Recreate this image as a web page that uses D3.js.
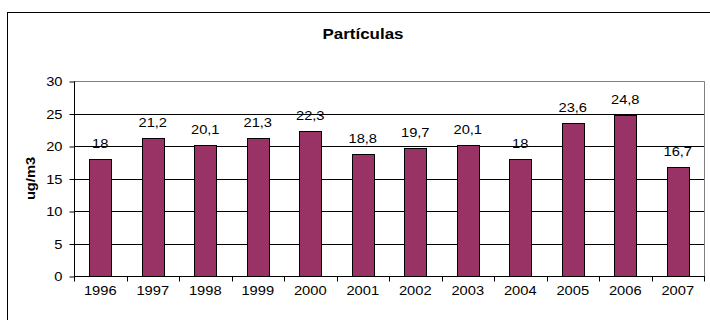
<!DOCTYPE html>
<html>
<head>
<meta charset="utf-8">
<script src="https://cdn.jsdelivr.net/npm/d3@7"></script>
<style>
  html, body { margin: 0; padding: 0; background: #fff; }
  svg { display: block; font-family: Arial, "Liberation Sans", sans-serif; }
</style>
</head>
<body>
<svg id="chart" width="710" height="320"></svg>
<script>
// Annual mean particle concentration
const years = ["1996", "1997", "1998", "1999", "2000", "2001", "2002", "2003", "2004", "2005", "2006", "2007"];
const values = [18, 21.2, 20.1, 21.3, 22.3, 18.8, 19.7, 20.1, 18, 23.6, 24.8, 16.7];
const yTicks = [0, 5, 10, 15, 20, 25, 30];
const chartTitle = "Partículas";
const yTitle = "ug/m3";

const svg = d3.select("#chart");
const plot = { left: 74, right: 704, top: 81, bottom: 276 };
const SX = 1.13; // glyphs are drawn slightly widened

// places a text element at (px, py) with horizontal widening
function place(sel, px, py) {
  sel.attr("transform", function (d, i) {
    const X = typeof px === "function" ? px(d, i) : px;
    const Y = typeof py === "function" ? py(d, i) : py;
    return `translate(${X},${Y}) scale(${SX},1)`;
  });
}

// outer frame
svg.append("rect")
  .attr("x", 7.5).attr("y", 12.5)
  .attr("width", 720).attr("height", 330)
  .attr("fill", "#fff").attr("stroke", "#000").attr("stroke-width", 1);

const x = d3.scaleBand().domain(years).range([plot.left, plot.right]).paddingInner(0.58).paddingOuter(0.29);
const xTicks = d3.scaleBand().domain(years).range([plot.left, plot.right]);
const y = d3.scaleLinear().domain([0, 30]).range([plot.bottom, plot.top]);

// gridlines
svg.append("g").selectAll("line").data(yTicks.filter(t => t > 0 && t < 30)).join("line")
  .attr("x1", plot.left).attr("x2", plot.right)
  .attr("y1", d => Math.round(y(d)) + 0.5).attr("y2", d => Math.round(y(d)) + 0.5)
  .attr("stroke", "#000").attr("stroke-width", 1);

// plot area border (top and right)
svg.append("path")
  .attr("d", `M${plot.left},${plot.top + 0.5}H${plot.right + 0.5}V${plot.bottom}`)
  .attr("fill", "none").attr("stroke", "#808080").attr("stroke-width", 1);

// bars
svg.append("g").selectAll("rect").data(values).join("rect")
  .attr("x", (d, i) => Math.round(x(years[i])) + 0.5)
  .attr("y", d => Math.round(y(d)) + 0.5)
  .attr("width", Math.round(x.bandwidth()))
  .attr("height", d => Math.round(y(0)) - Math.round(y(d)))
  .attr("fill", "#993366").attr("stroke", "#000").attr("stroke-width", 1);

// value labels
const vl = svg.append("g").selectAll("text").data(values).join("text")
  .attr("text-anchor", "middle")
  .attr("font-size", 13)
  .attr("fill", "#000")
  .text(d => String(d).replace(".", ","));
place(vl, (d, i) => x(years[i]) + x.bandwidth() / 2, d => y(d) - 11);

// y axis
const yAxis = d3.axisLeft(y).tickValues(yTicks).tickSize(5).tickPadding(6);
const gy = svg.append("g").attr("transform", `translate(${plot.left + 0.5},0.5)`).call(yAxis);
gy.select(".domain").attr("d", `M0,${plot.top}V${plot.bottom}`).attr("stroke", "#000");
gy.selectAll(".tick line").attr("stroke", "#000");
gy.selectAll(".tick text")
  .attr("font-size", 13).attr("font-family", "Arial, 'Liberation Sans', sans-serif").attr("fill", "#000")
  .attr("x", null).attr("dy", "0.34em")
  .attr("transform", `translate(-12,0) scale(${SX},1)`);

// x axis: ticks sit between categories
const gx = svg.append("g").attr("transform", `translate(0,${Math.round(y(0)) + 0.5})`);
gx.append("line").attr("x1", plot.left).attr("x2", plot.right + 1).attr("stroke", "#000");
gx.selectAll("line.tick").data(years.concat(["end"])).join("line")
  .attr("class", "tick")
  .attr("x1", (d, i) => Math.round(plot.left + i * xTicks.step()) + 0.5)
  .attr("x2", (d, i) => Math.round(plot.left + i * xTicks.step()) + 0.5)
  .attr("y1", 0).attr("y2", 5).attr("stroke", "#000");
const xl = gx.selectAll("text").data(years).join("text")
  .attr("text-anchor", "middle")
  .attr("font-size", 13)
  .attr("fill", "#000")
  .text(d => d);
place(xl, d => xTicks(d) + xTicks.bandwidth() / 2, 18);

// titles
const tt = svg.append("text")
  .attr("text-anchor", "middle").attr("font-size", 15).attr("font-weight", "bold")
  .text(chartTitle);
place(tt, 363, 38.5);
svg.append("text")
  .attr("transform", `translate(35,${(plot.top + plot.bottom) / 2}) rotate(-90) scale(${SX},1)`)
  .attr("text-anchor", "middle").attr("font-size", 13).attr("font-weight", "bold")
  .text(yTitle);
</script>
</body>
</html>
